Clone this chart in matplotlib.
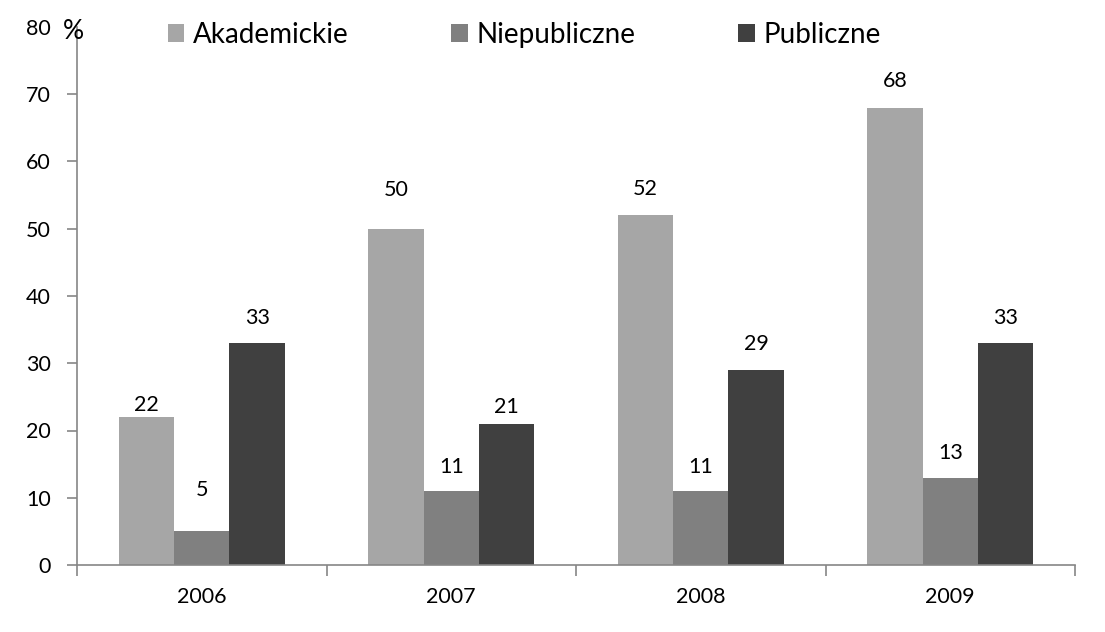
import matplotlib
matplotlib.use("Agg")
import matplotlib.pyplot as plt
import numpy as np

years = ["2006", "2007", "2008", "2009"]
series_names = ["Akademickie", "Niepubliczne", "Publiczne"]
akademickie = [22, 50, 52, 68]
niepubliczne = [5, 11, 11, 13]
publiczne = [33, 21, 29, 33]
y_ticks = [0, 10, 20, 30, 40, 50, 60, 70, 80]

colors = ["#A6A6A6", "#808080", "#404040"]
# label offsets above bar tops (points), per series/year
label_offsets = [[9, 28, 19, 19], [30, 17, 17, 18], [18, 12, 19, 18]]

plt.rcParams["font.family"] = ["Lato", "DejaVu Sans"]

fig = plt.figure(figsize=(11.05, 6.32), dpi=100)
ax = fig.add_axes([77 / 1105, 1 - 565 / 632, (1075 - 77) / 1105, (565 - 27) / 632])

x = np.arange(len(years))
width = 0.222
all_series = [akademickie, niepubliczne, publiczne]
for i, (name, vals) in enumerate(zip(series_names, all_series)):
    pos = x + (i - 1) * width
    ax.bar(pos, vals, width, color=colors[i], label=name, zorder=2)
    for j, (px, v) in enumerate(zip(pos, vals)):
        ax.annotate(str(v), (px, v), xytext=(0, label_offsets[i][j]),
                    textcoords="offset points", ha="center", va="center",
                    fontsize=15.5, color="black")

ax.set_xlim(-0.5, len(years) - 0.5)
ax.set_ylim(0, 80)
ax.set_yticks(y_ticks)
ax.set_yticklabels([str(t) for t in y_ticks], fontsize=15.5)
ax.set_xticks(x)
ax.set_xticklabels(years, fontsize=15.5)
ax.tick_params(axis="x", length=0, pad=16)
ax.set_xticks(np.arange(len(years) + 1) - 0.5, minor=True)
ax.tick_params(axis="x", which="minor", length=8, width=1.2, color="#868686")
ax.tick_params(axis="y", length=7, width=1.2, color="#868686", pad=12)
for s in ["top", "right"]:
    ax.spines[s].set_visible(False)
for s in ["left", "bottom"]:
    ax.spines[s].set_color("#868686")
    ax.spines[s].set_linewidth(1.2)

ax.annotate("%", (-0.5, 80), xytext=(5, -3), textcoords="offset points",
            ha="right", va="center", fontsize=19, color="black",
            annotation_clip=False)
ax.yaxis.get_major_ticks()[-1].tick1line.set_visible(False)

ax.legend(loc="center", bbox_to_anchor=(0.448, 0.985), ncol=3, frameon=False,
          fontsize=20, handlelength=0.6, handleheight=0.6, handletextpad=0.3,
          columnspacing=3.7)

fig.savefig("out.png", dpi=100, facecolor="white")
